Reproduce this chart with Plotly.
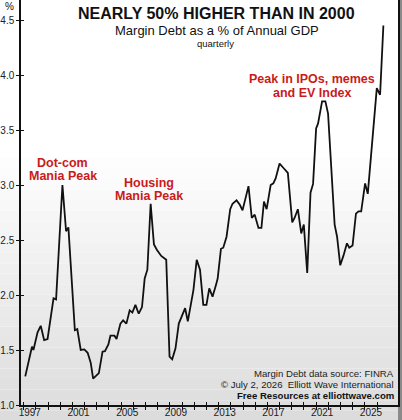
"""Margin debt as a % of annual GDP, quarterly - Plotly recreation."""
import plotly.graph_objects as go

FONT = "Liberation Sans, Arial, sans-serif"
RED = "#c91b1b"

# quarterly readings (decimal year, % of GDP)
years = [
    1997.13, 1997.68, 1997.80, 1998.14, 1998.40, 1998.68, 1998.96, 1999.45,
    1999.66, 2000.18, 2000.48, 2000.67, 2001.20, 2001.40, 2001.68, 2001.98,
    2002.25, 2002.50, 2002.70, 2002.98, 2003.17, 2003.47, 2003.67, 2003.95,
    2004.12, 2004.45, 2004.62, 2004.94, 2005.16, 2005.43, 2005.70, 2005.92,
    2006.17, 2006.44, 2006.71, 2006.93, 2007.15, 2007.42, 2007.69, 2007.94,
    2008.29, 2008.70, 2008.97, 2009.19, 2009.46, 2009.73, 2009.98, 2010.25,
    2010.47, 2010.70, 2010.93, 2011.20, 2011.47, 2011.74, 2012.00, 2012.23,
    2012.50, 2012.78, 2012.92, 2013.19, 2013.38, 2013.65, 2013.95, 2014.14,
    2014.47, 2014.74, 2014.96, 2015.23, 2015.45, 2015.72, 2015.96, 2016.27,
    2016.51, 2016.72, 2016.94, 2017.27, 2017.49, 2017.68, 2018.00, 2018.36,
    2018.68, 2019.04, 2019.23, 2019.50, 2019.78, 2019.99, 2020.27, 2020.54,
    2020.75, 2021.00, 2021.16, 2021.49, 2021.76, 2021.98, 2022.52, 2022.72,
    2022.98, 2023.25, 2023.53, 2023.72, 2023.99, 2024.27, 2024.48, 2024.70,
    2025.02, 2025.24, 2025.98, 2026.25, 2026.52,
]
margin_pct = [
    1.26, 1.53, 1.50, 1.66, 1.72, 1.59, 1.60, 1.97,
    1.96, 3.00, 2.58, 2.615, 1.68, 1.69, 1.50, 1.505,
    1.475, 1.385, 1.24, 1.27, 1.29, 1.485, 1.49, 1.55,
    1.63, 1.63, 1.60, 1.74, 1.77, 1.74, 1.86, 1.84,
    1.91, 1.83, 1.89, 2.15, 2.23, 2.83, 2.46, 2.41,
    2.355, 2.32, 1.44, 1.415, 1.515, 1.74, 1.80, 1.88,
    1.76, 1.90, 2.045, 2.32, 2.23, 1.91, 1.91, 2.06,
    1.985, 2.09, 2.15, 2.42, 2.43, 2.53, 2.78, 2.83,
    2.86, 2.82, 2.77, 2.89, 2.99, 2.70, 2.73, 2.61,
    2.61, 2.85, 2.78, 3.00, 3.015, 3.06, 3.195, 3.15,
    3.11, 2.66, 2.70, 2.78, 2.56, 2.64, 2.20, 2.93,
    3.01, 3.515, 3.56, 3.76, 3.76, 3.65, 2.64, 2.53,
    2.27, 2.36, 2.47, 2.43, 2.45, 2.74, 2.76, 2.76,
    3.015, 2.92, 3.88, 3.82, 4.45,
]

tick_years = list(range(1997, 2027))
label_years = list(range(1997, 2026, 4))
y_ticks = [1.0, 1.5, 2.0, 2.5, 3.0, 3.5, 4.0, 4.5]

W, H = 402, 420
ML, MR, MT, MB = 19, 4, 0, 15
PW, PH = W - ML - MR, H - MT - MB
X_RANGE = [1996.78, 2027.72]
Y_RANGE = [1.0, 1.0 + PH / 110]


def px(x, y):
    """pixel position in the picture -> paper coordinates"""
    return (x - ML) / PW, (H - MB - y) / PH


fig = go.Figure()
fig.add_trace(go.Scatter(
    x=years, y=margin_pct, mode="lines",
    line=dict(color="#111111", width=1.8),
    showlegend=False, hoverinfo="x+y",
))
# empty trace so the overlay axes (inner half of the ticks) get drawn
fig.add_trace(go.Scatter(x=[None], y=[None], xaxis="x2", yaxis="y2",
                         showlegend=False, hoverinfo="skip"))

# soft grey-to-white background
shapes = []
n = 40
y_lo, y_hi = -0.04, 1.0
for i in range(n):
    a = y_lo + (y_hi - y_lo) * i / n
    b = y_lo + (y_hi - y_lo) * (i + 1) / n
    mid = (a + b) / 2
    t = min(max((mid - y_lo) / (0.62 - y_lo), 0.0), 1.0)
    c = int(220 + (255 - 220) * t)
    shapes.append(dict(type="rect", xref="paper", yref="paper",
                       x0=-0.06, x1=1.0, y0=a, y1=b, layer="below",
                       line=dict(width=0), fillcolor=f"rgb({c},{c},{c})"))
shapes.append(dict(type="rect", xref="paper", yref="paper",
                   x0=1.0, x1=1.02, y0=-0.04, y1=1.0, layer="below",
                   line=dict(width=0), fillcolor="#8a8a8a"))

annotations = []


def note(text, x, y, size, color="#111111", bold=False, xanchor="center"):
    xp, yp = px(x, y)
    if bold:
        text = f"<b>{text}</b>"
    annotations.append(dict(
        text=text, x=xp, y=yp, xref="paper", yref="paper",
        xanchor=xanchor, yanchor="middle", showarrow=False,
        font=dict(family=FONT, size=size, color=color),
    ))


note("NEARLY 50% HIGHER THAN IN 2000", 216, 14, 16, bold=True)
note("Margin Debt as a % of Annual GDP", 216, 31, 13)
note("quarterly", 215, 43, 9.5)
note("%", 7, 7, 10)
note("Dot-com", 61, 163, 12.5, RED, bold=True)
note("Mania Peak", 61, 176, 12.5, RED, bold=True)
note("Housing", 148, 183, 12.5, RED, bold=True)
note("Mania Peak", 148, 196, 12.5, RED, bold=True)
note("Peak in IPOs, memes", 312, 79, 12.5, RED, bold=True)
note("and EV Index", 312, 93, 12.5, RED, bold=True)
note("Margin Debt data source: FINRA", 396, 373, 9.6, "#222222", xanchor="right")
note("© July 2, 2026  Elliott Wave International", 396, 384, 9.6, "#222222",
     xanchor="right")
note("Free Resources at elliottwave.com", 396, 395, 9.6, "#111111", bold=True,
     xanchor="right")

tick_font = dict(family=FONT, size=10, color="#222222")
fig.update_layout(
    width=W, height=H,
    margin=dict(l=ML, r=MR, t=MT, b=MB, pad=0),
    paper_bgcolor="#ffffff",
    plot_bgcolor="rgba(0,0,0,0)",
    shapes=shapes,
    annotations=annotations,
    xaxis=dict(
        range=X_RANGE, showgrid=False, zeroline=False,
        tickmode="array", tickvals=tick_years, showticklabels=False,
        ticks="outside", ticklen=3, tickwidth=1.3, tickcolor="#111111",
        showline=True, linecolor="#111111", linewidth=1.5,
    ),
    xaxis2=dict(
        range=X_RANGE, overlaying="x", anchor="y", side="bottom",
        showgrid=False, zeroline=False, showline=False,
        tickmode="array", tickvals=[v + 0.5 for v in label_years],
        ticktext=[str(v) for v in label_years], ticks="",
        tickfont=tick_font,
        minor=dict(tickmode="array", tickvals=tick_years, ticks="inside",
                   ticklen=3, tickwidth=1.3, tickcolor="#111111",
                   showgrid=False),
    ),
    yaxis=dict(
        range=Y_RANGE, showgrid=False, zeroline=False,
        tickmode="array", tickvals=y_ticks,
        ticktext=[f"{v:.1f}" for v in y_ticks], tickfont=tick_font,
        ticks="outside", ticklen=3, tickwidth=1.3, tickcolor="#111111",
        showline=True, linecolor="#111111", linewidth=1.5, mirror=True,
    ),
    yaxis2=dict(
        range=Y_RANGE, overlaying="y", anchor="x", side="left",
        showgrid=False, zeroline=False, showline=False,
        tickmode="array", tickvals=y_ticks, showticklabels=False,
        ticks="inside", ticklen=3, tickwidth=1.3, tickcolor="#111111",
    ),
)

# the page body has a default 8px margin; drop it so the figure fills the window
fig.write_html(
    "out.html",
    config={"displayModeBar": False},
    post_script="document.body.style.margin = '0';",
)
